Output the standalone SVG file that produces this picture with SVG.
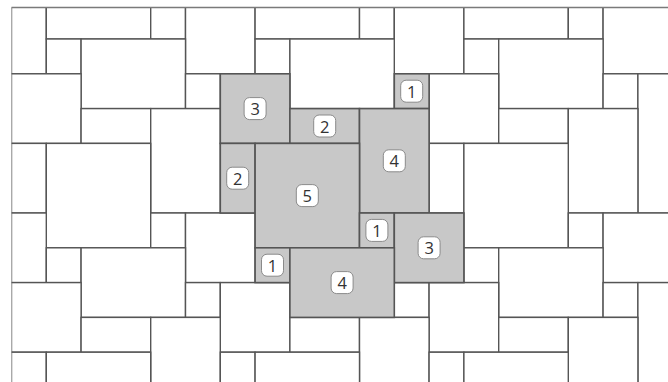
<svg xmlns="http://www.w3.org/2000/svg" width="668" height="382" viewBox="0 0 668 382">
<style>
.t{fill:#ffffff;stroke:#555555;stroke-width:1.4}
.g{fill:#c8c8c8;stroke:#555555;stroke-width:1.6}
.lb{fill:#ffffff;stroke:#8a8a8a;stroke-width:1}
.tx{font-family:"Open Sans","Liberation Sans",sans-serif;font-size:16.5px;fill:#333333;text-anchor:middle;dominant-baseline:central}
</style>
<defs>
<clipPath id="clip"><rect x="11.5" y="7.5" width="670" height="380"/></clipPath>
</defs>
<rect width="668" height="382" fill="#ffffff"/>
<g clip-path="url(#clip)">
<g id="white-tiles">
<rect class="t" x="11.5" y="4.2" width="34.8" height="69.6"/>
<rect class="t" x="46.3" y="-30.6" width="104.4" height="69.6"/>
<rect class="t" x="150.7" y="4.2" width="34.8" height="34.8"/>
<rect class="t" x="185.5" y="4.2" width="69.6" height="69.6"/>
<rect class="t" x="255.1" y="-30.6" width="104.4" height="69.6"/>
<rect class="t" x="359.5" y="4.2" width="34.8" height="34.8"/>
<rect class="t" x="394.3" y="4.2" width="69.6" height="69.6"/>
<rect class="t" x="463.9" y="-30.6" width="104.4" height="69.6"/>
<rect class="t" x="568.3" y="4.2" width="34.8" height="34.8"/>
<rect class="t" x="603.1" y="4.2" width="69.6" height="69.6"/>
<rect class="t" x="46.3" y="39" width="34.8" height="34.8"/>
<rect class="t" x="81.1" y="39" width="104.4" height="69.6"/>
<rect class="t" x="255.1" y="39" width="34.8" height="34.8"/>
<rect class="t" x="289.9" y="39" width="104.4" height="69.6"/>
<rect class="t" x="463.9" y="39" width="34.8" height="34.8"/>
<rect class="t" x="498.7" y="39" width="104.4" height="69.6"/>
<rect class="t" x="11.5" y="73.8" width="69.6" height="69.6"/>
<rect class="t" x="185.5" y="73.8" width="34.8" height="34.8"/>
<rect class="t" x="429.1" y="73.8" width="69.6" height="69.6"/>
<rect class="t" x="603.1" y="73.8" width="34.8" height="34.8"/>
<rect class="t" x="637.9" y="73.8" width="69.6" height="139.2"/>
<rect class="t" x="81.1" y="108.6" width="69.6" height="34.8"/>
<rect class="t" x="150.7" y="108.6" width="69.6" height="104.4"/>
<rect class="t" x="498.7" y="108.6" width="69.6" height="34.8"/>
<rect class="t" x="568.3" y="108.6" width="69.6" height="104.4"/>
<rect class="t" x="11.5" y="143.4" width="34.8" height="69.6"/>
<rect class="t" x="46.3" y="143.4" width="104.4" height="104.4"/>
<rect class="t" x="429.1" y="143.4" width="34.8" height="69.6"/>
<rect class="t" x="463.9" y="143.4" width="104.4" height="104.4"/>
<rect class="t" x="11.5" y="213" width="34.8" height="69.6"/>
<rect class="t" x="150.7" y="213" width="34.8" height="34.8"/>
<rect class="t" x="185.5" y="213" width="69.6" height="69.6"/>
<rect class="t" x="568.3" y="213" width="34.8" height="34.8"/>
<rect class="t" x="603.1" y="213" width="69.6" height="69.6"/>
<rect class="t" x="46.3" y="247.8" width="34.8" height="34.8"/>
<rect class="t" x="81.1" y="247.8" width="104.4" height="69.6"/>
<rect class="t" x="463.9" y="247.8" width="34.8" height="34.8"/>
<rect class="t" x="498.7" y="247.8" width="104.4" height="69.6"/>
<rect class="t" x="11.5" y="282.6" width="69.6" height="69.6"/>
<rect class="t" x="185.5" y="282.6" width="34.8" height="34.8"/>
<rect class="t" x="220.3" y="282.6" width="69.6" height="69.6"/>
<rect class="t" x="394.3" y="282.6" width="34.8" height="34.8"/>
<rect class="t" x="429.1" y="282.6" width="69.6" height="69.6"/>
<rect class="t" x="603.1" y="282.6" width="34.8" height="34.8"/>
<rect class="t" x="637.9" y="282.6" width="34.8" height="104.4"/>
<rect class="t" x="81.1" y="317.4" width="69.6" height="34.8"/>
<rect class="t" x="150.7" y="317.4" width="69.6" height="69.6"/>
<rect class="t" x="289.9" y="317.4" width="69.6" height="34.8"/>
<rect class="t" x="359.5" y="317.4" width="69.6" height="69.6"/>
<rect class="t" x="498.7" y="317.4" width="69.6" height="34.8"/>
<rect class="t" x="568.3" y="317.4" width="69.6" height="69.6"/>
<rect class="t" x="11.5" y="352.2" width="34.8" height="69.6"/>
<rect class="t" x="46.3" y="352.2" width="104.4" height="69.6"/>
<rect class="t" x="220.3" y="352.2" width="34.8" height="34.8"/>
<rect class="t" x="255.1" y="352.2" width="104.4" height="69.6"/>
<rect class="t" x="429.1" y="352.2" width="34.8" height="34.8"/>
<rect class="t" x="463.9" y="352.2" width="104.4" height="69.6"/>
</g>
<g id="tile-3a">
<rect class="g" x="220.3" y="73.8" width="69.6" height="69.6"/>
<rect class="lb" x="244.1" y="97.6" width="22" height="22" rx="5.5"/>
<text class="tx" x="255.1" y="108.6">3</text>
</g>
<g id="tile-2a">
<rect class="g" x="289.9" y="108.6" width="69.6" height="34.8"/>
<rect class="lb" x="313.7" y="115" width="22" height="22" rx="5.5"/>
<text class="tx" x="324.7" y="126">2</text>
</g>
<g id="tile-1a">
<rect class="g" x="394.3" y="73.8" width="34.8" height="34.8"/>
<rect class="lb" x="400.7" y="80.2" width="22" height="22" rx="5.5"/>
<text class="tx" x="411.7" y="91.2">1</text>
</g>
<g id="tile-4a">
<rect class="g" x="359.5" y="108.6" width="69.6" height="104.4"/>
<rect class="lb" x="383.3" y="149.8" width="22" height="22" rx="5.5"/>
<text class="tx" x="394.3" y="160.8">4</text>
</g>
<g id="tile-2b">
<rect class="g" x="220.3" y="143.4" width="34.8" height="69.6"/>
<rect class="lb" x="226.7" y="167.2" width="22" height="22" rx="5.5"/>
<text class="tx" x="237.7" y="178.2">2</text>
</g>
<g id="tile-5">
<rect class="g" x="255.1" y="143.4" width="104.4" height="104.4"/>
<rect class="lb" x="296.3" y="184.6" width="22" height="22" rx="5.5"/>
<text class="tx" x="307.3" y="195.6">5</text>
</g>
<g id="tile-1b">
<rect class="g" x="359.5" y="213" width="34.8" height="34.8"/>
<rect class="lb" x="365.9" y="219.4" width="22" height="22" rx="5.5"/>
<text class="tx" x="376.9" y="230.4">1</text>
</g>
<g id="tile-3b">
<rect class="g" x="394.3" y="213" width="69.6" height="69.6"/>
<rect class="lb" x="418.1" y="236.8" width="22" height="22" rx="5.5"/>
<text class="tx" x="429.1" y="247.8">3</text>
</g>
<g id="tile-1c">
<rect class="g" x="255.1" y="247.8" width="34.8" height="34.8"/>
<rect class="lb" x="261.5" y="254.2" width="22" height="22" rx="5.5"/>
<text class="tx" x="272.5" y="265.2">1</text>
</g>
<g id="tile-4b">
<rect class="g" x="289.9" y="247.8" width="104.4" height="69.6"/>
<rect class="lb" x="331.1" y="271.6" width="22" height="22" rx="5.5"/>
<text class="tx" x="342.1" y="282.6">4</text>
</g>
</g>
<g id="frame">
<line x1="11.5" y1="7.5" x2="668" y2="7.5" stroke="#7a7a7a" stroke-width="1.4"/>
</g>
<g id="connectors"/>
</svg>
